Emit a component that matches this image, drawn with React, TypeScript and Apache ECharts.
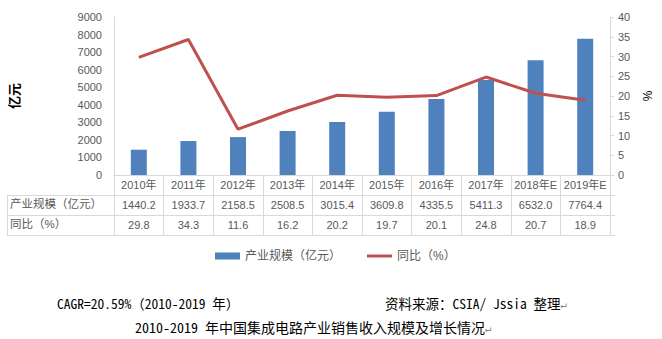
import React, { useEffect, useRef } from "react";
import * as echarts from "echarts";

const categories = ["2010年", "2011年", "2012年", "2013年", "2014年", "2015年", "2016年", "2017年", "2018年E", "2019年E"];
const scaleValues = [1440.2, 1933.7, 2158.5, 2508.5, 3015.4, 3609.8, 4335.5, 5411.3, 6532.0, 7764.4];
const growthValues = [29.8, 34.3, 11.6, 16.2, 20.2, 19.7, 20.1, 24.8, 20.7, 18.9];
const seriesNames = ["产业规模（亿元）", "同比（%）"];
const rowLabels = ["产业规模（亿元）", "同比（%）"];
const cagrText = "CAGR=20.59%（2010-2019 年）";
const sourceText = "资料来源：CSIA/ Jssia 整理";
const titleText = "2010-2019 年中国集成电路产业销售收入规模及增长情况";

const FONT = "'Liberation Sans', 'Noto Sans CJK SC', sans-serif";
const SONG = "'Noto Sans Mono CJK SC', 'Noto Sans CJK SC', 'DejaVu Sans Mono', monospace";
const GRID_LEFT = 109;
const GRID_RIGHT_X = 615;
const GRID_TOP = 17;
const GRID_BOTTOM_Y = 175;
const ROW_H = 20;
const LINE_C = "#d9d9d9";
const LABEL_C = "#595959";

export default function App() {
  const ref = useRef<HTMLDivElement>(null);
  useEffect(() => {
    document.body.style.margin = "0";
    const chart = echarts.init(ref.current!, undefined, { renderer: "svg" });
    const hLine = (y: number, x1: number, x2: number) => ({
      type: "line",
      shape: { x1, y1: y, x2, y2: y },
      style: { stroke: LINE_C, lineWidth: 1 },
      silent: true,
    });
    const option: any = {
      animation: false,
      textStyle: { fontFamily: FONT },
      grid: { left: GRID_LEFT, right: 662 - GRID_RIGHT_X, top: GRID_TOP, height: GRID_BOTTOM_Y - GRID_TOP, containLabel: false },
      legend: {
        data: [
          { name: seriesNames[0], icon: "rect" },
          { name: seriesNames[1], icon: "path://M0,0L25,0L25,3L0,3Z" },
        ],
        symbolKeepAspect: true,
        left: 210,
        top: 245,
        itemWidth: 25,
        itemHeight: 7,
        itemGap: 26,
        textStyle: { color: LABEL_C, fontSize: 12, fontFamily: FONT },
      },
      xAxis: [
        {
          type: "category",
          data: categories,
          axisLine: { show: true, lineStyle: { color: LINE_C } },
          axisTick: { show: true, length: ROW_H * 3, lineStyle: { color: LINE_C } },
          axisLabel: { color: LABEL_C, fontSize: 11, margin: 4, interval: 0 },
        },
        {
          type: "category",
          data: scaleValues.map((v) => v.toFixed(1)),
          position: "bottom",
          offset: ROW_H,
          axisLine: { show: false },
          axisTick: { show: false },
          axisLabel: { color: LABEL_C, fontSize: 11, margin: 4, interval: 0 },
        },
        {
          type: "category",
          data: growthValues.map((v) => v.toFixed(1)),
          position: "bottom",
          offset: ROW_H * 2,
          axisLine: { show: false },
          axisTick: { show: false },
          axisLabel: { color: LABEL_C, fontSize: 11, margin: 4, interval: 0 },
        },
      ],
      yAxis: [
        {
          type: "value",
          min: 0,
          max: 9000,
          interval: 1000,
          position: "left",
          name: "亿元",
          nameLocation: "middle",
          nameRotate: 90,
          nameGap: 93,
          nameTextStyle: { fontWeight: "bold", fontSize: 13, color: "#000", fontFamily: FONT },
          axisLine: { show: true, lineStyle: { color: LINE_C } },
          axisTick: { show: false },
          splitLine: { show: false },
          axisLabel: { color: LABEL_C, fontSize: 11, margin: 12, formatter: (v: number) => String(v) },
        },
        {
          type: "value",
          min: 0,
          max: 40,
          interval: 5,
          position: "right",
          name: "%",
          nameLocation: "middle",
          nameRotate: 90,
          nameGap: 32,
          nameTextStyle: { fontSize: 12, color: "#000", fontFamily: FONT },
          axisLine: { show: true, lineStyle: { color: LINE_C } },
          axisTick: { show: true, length: 4, lineStyle: { color: LINE_C } },
          splitLine: { show: false },
          axisLabel: { color: LABEL_C, fontSize: 11, margin: 8 },
        },
      ],
      series: [
        {
          name: seriesNames[0],
          type: "bar",
          data: scaleValues,
          xAxisIndex: 0,
          yAxisIndex: 0,
          barWidth: 16,
          itemStyle: { color: "#4f81bd" },
        },
        {
          name: seriesNames[1],
          type: "line",
          data: growthValues,
          xAxisIndex: 0,
          yAxisIndex: 1,
          symbol: "none",
          lineStyle: { color: "#c0504d", width: 3 },
          itemStyle: { color: "#c0504d" },
        },
      ],
      graphic: [
        hLine(GRID_BOTTOM_Y + ROW_H + 0.5, 7, GRID_RIGHT_X),
        hLine(GRID_BOTTOM_Y + ROW_H * 2 + 0.5, 7, GRID_RIGHT_X),
        hLine(GRID_BOTTOM_Y + ROW_H * 3 + 0.5, 7, GRID_RIGHT_X),
        {
          type: "line",
          shape: { x1: 7.5, y1: GRID_BOTTOM_Y + ROW_H, x2: 7.5, y2: GRID_BOTTOM_Y + ROW_H * 3 },
          style: { stroke: LINE_C, lineWidth: 1 },
          silent: true,
        },
        ...rowLabels.map((t, i) => ({
          type: "text",
          left: 10,
          top: GRID_BOTTOM_Y + ROW_H * (i + 1) + 3,
          style: { text: t, fill: LABEL_C, fontSize: 11.5, fontFamily: FONT },
        })),
        {
          type: "text",
          left: 57,
          top: 296,
          style: { text: cagrText, fill: "#000", fontSize: 13.5, fontFamily: SONG },
        },
        {
          type: "text",
          left: 385,
          top: 296,
          style: {
            text: "{a|" + sourceText + "}{b|↵}",
            rich: {
              a: { fill: "#000", fontSize: 13.5, fontFamily: SONG },
              b: { fill: "#888", fontSize: 11, fontFamily: SONG },
            },
          },
        },
        {
          type: "text",
          left: 135,
          top: 320,
          style: {
            text: "{a|" + titleText + "}{b|↵}",
            rich: {
              a: { fill: "#000", fontSize: 14, fontFamily: SONG },
              b: { fill: "#888", fontSize: 11, fontFamily: SONG },
            },
          },
        },
      ],
    };
    chart.setOption(option);
    return () => chart.dispose();
  }, []);
  return <div ref={ref} style={{ width: 662, height: 339 }} />;
}
